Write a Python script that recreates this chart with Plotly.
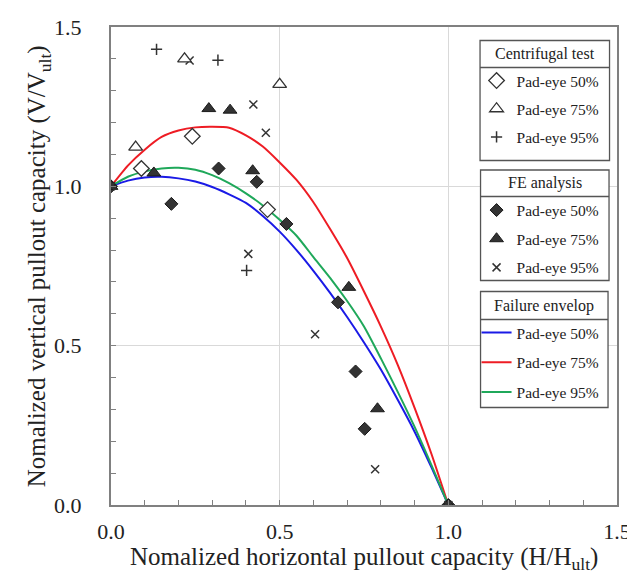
import plotly.graph_objects as go

# ---------------- data ----------------
# Centrifugal test (open markers)
cf50_h = [0.090, 0.241, 0.464]
cf50_v = [1.056, 1.157, 0.927]
cf75_h = [0.073, 0.218, 0.500]
cf75_v = [1.123, 1.400, 1.320]
cf95_h = [0.135, 0.317, 0.402]
cf95_v = [1.430, 1.396, 0.736]

# FE analysis (filled markers)
fe50_h = [0.0, 0.179, 0.319, 0.432, 0.520, 0.673, 0.725, 0.752, 1.0]
fe50_v = [1.0, 0.945, 1.056, 1.014, 0.882, 0.636, 0.419, 0.239, 0.0]
fe75_h = [0.0, 0.127, 0.290, 0.353, 0.420, 0.705, 0.790, 1.0]
fe75_v = [1.0, 1.042, 1.244, 1.239, 1.049, 0.683, 0.302, 0.0]
fe95_h = [0.0, 0.233, 0.422, 0.459, 0.407, 0.605, 0.783, 1.0]
fe95_v = [1.0, 1.395, 1.257, 1.168, 0.788, 0.536, 0.112, 0.0]

# Failure envelopes
env_h = [0.0, 0.05, 0.10, 0.15, 0.20, 0.25, 0.30, 0.35, 0.40, 0.45, 0.50,
         0.55, 0.60, 0.65, 0.70, 0.75, 0.80, 0.85, 0.90, 0.95, 1.0]
env50_v = [1.0, 1.018, 1.028, 1.030, 1.025, 1.015, 0.998, 0.975, 0.948, 0.907, 0.858,
           0.800, 0.735, 0.665, 0.590, 0.510, 0.425, 0.330, 0.230, 0.118, 0.0]
env75_v = [1.0, 1.065, 1.115, 1.155, 1.175, 1.185, 1.187, 1.184, 1.160, 1.125, 1.075,
           1.020, 0.950, 0.865, 0.775, 0.670, 0.560, 0.440, 0.305, 0.160, 0.0]
env95_v = [1.0, 1.030, 1.047, 1.056, 1.058, 1.052, 1.035, 1.010, 0.978, 0.940, 0.895,
           0.845, 0.778, 0.712, 0.640, 0.560, 0.460, 0.355, 0.245, 0.125, 0.0]

# y tick labels
y_tick_vals = [0.0, 0.5, 1.0, 1.5]
y_tick_text = ["0.0", "0.5", "1.0", "1.5"]

item_label = ["Pad-eye 50%", "Pad-eye 75%", "Pad-eye 95%"]
legend_titles = ["Centrifugal test", "FE analysis", "Failure envelop"]
x_title = "Nomalized horizontal pullout capacity (H/H<sub>ult</sub>)"
y_title = "Nomalized vertical pullout capacity (V/V<sub>ult</sub>)"

FONT = "Liberation Serif"
TXT = "#222222"
DARK = "#333333"
EDGE = "#1a1a1a"
BOX = "#555555"
line_colors = ["#1a1ae6", "#ee1c24", "#1fa85a"]

fig = go.Figure()

# envelopes first (below markers)
for i, v in enumerate([env50_v, env75_v, env95_v]):
    fig.add_trace(go.Scatter(
        x=env_h, y=v, mode="lines", name=item_label[i],
        line=dict(color=line_colors[i], width=2, shape="spline", smoothing=0.6),
        legend="legend3", legendgroup="env%d" % i))

# FE analysis
fig.add_trace(go.Scatter(
    x=fe50_h, y=fe50_v, mode="markers", name=item_label[0],
    marker=dict(symbol="diamond", size=10, color=DARK, line=dict(color=EDGE, width=1)),
    legend="legend2", legendgroup="fe0"))
fig.add_trace(go.Scatter(
    x=fe75_h, y=fe75_v, mode="markers", name=item_label[1],
    marker=dict(symbol="triangle-up", size=12, color=DARK, line=dict(color=EDGE, width=1)),
    legend="legend2", legendgroup="fe1"))
fig.add_trace(go.Scatter(
    x=fe95_h, y=fe95_v, mode="markers", name=item_label[2],
    marker=dict(symbol="x-thin", size=8, color=DARK, line=dict(color=DARK, width=1.5)),
    legend="legend2", legendgroup="fe2"))

# Centrifugal test
fig.add_trace(go.Scatter(
    x=cf50_h, y=cf50_v, mode="markers", name=item_label[0],
    marker=dict(symbol="diamond", size=12, color="white", line=dict(color=DARK, width=1.3)),
    legend="legend", legendgroup="cf0"))
fig.add_trace(go.Scatter(
    x=cf75_h, y=cf75_v, mode="markers", name=item_label[1],
    marker=dict(symbol="triangle-up", size=12, color="white", line=dict(color=DARK, width=1.3)),
    legend="legend", legendgroup="cf1"))
fig.add_trace(go.Scatter(
    x=cf95_h, y=cf95_v, mode="markers", name=item_label[2],
    marker=dict(symbol="cross-thin", size=8, color=DARK, line=dict(color=DARK, width=1.5)),
    legend="legend", legendgroup="cf2"))

# plot area geometry (pixels) for legend placement
W, H = 635, 577
ml, mr, mt, mb = 103, 24, 19, 80
pw, ph = W - ml - mr, H - mt - mb


def px2paper_x(px):
    return (px - ml) / pw


def px2paper_y(py):
    return (H - mb - py) / ph


# legend boxes (pixel rectangles): left, right, top, divider, bottom
boxes = [
    (473.5, 603.5, 32.5, 59.5, 152.5),
    (474.0, 603.0, 162.0, 188.5, 272.5),
    (474.0, 602.0, 283.5, 311.5, 399.5),
]
item_tops = [56, 185.5, 308]
item_gaps = [5, 5.5, 6.5]

legends = {}
shapes = []
annotations = []
for k, name in enumerate(["legend", "legend2", "legend3"]):
    l, r, t, dv, b = boxes[k]
    legends[name] = dict(
        x=px2paper_x(470), xanchor="left",
        y=px2paper_y(item_tops[k]), yanchor="top",
        borderwidth=0, bgcolor="rgba(0,0,0,0)",
        font=dict(family=FONT, size=15.5, color=TXT),
        tracegroupgap=item_gaps[k], traceorder="grouped", itemwidth=30,
    )
    shapes.append(dict(type="rect", xref="paper", yref="paper", layer="above",
                       x0=px2paper_x(l), x1=px2paper_x(r),
                       y0=px2paper_y(b), y1=px2paper_y(t),
                       fillcolor="white", line=dict(color=BOX, width=1.3)))
    shapes.append(dict(type="line", xref="paper", yref="paper", layer="above",
                       x0=px2paper_x(l), x1=px2paper_x(r),
                       y0=px2paper_y(dv), y1=px2paper_y(dv),
                       line=dict(color=BOX, width=1.3)))
    annotations.append(dict(text=legend_titles[k], xref="paper", yref="paper",
                            x=px2paper_x((l + r) / 2), y=px2paper_y((t + dv) / 2),
                            xanchor="center", yanchor="middle", showarrow=False,
                            font=dict(family=FONT, size=16, color=TXT)))

# y tick labels, placed on the y scale, set well away from the axis as in the reference
for val, txt in zip(y_tick_vals, y_tick_text):
    annotations.append(dict(text=txt, xref="paper", yref="y",
                            x=px2paper_x(76), y=val, xanchor="right", yanchor="middle",
                            showarrow=False, font=dict(family=FONT, size=22, color=TXT)))

# axis titles
annotations.append(dict(text=x_title, xref="paper", yref="paper",
                        x=0.5, y=px2paper_y(533), xanchor="center", yanchor="top",
                        showarrow=False, font=dict(family=FONT, size=25, color=TXT)))
annotations.append(dict(text=y_title, xref="paper", yref="paper", textangle=-90,
                        x=px2paper_x(30), y=0.5, xanchor="center", yanchor="middle",
                        showarrow=False, font=dict(family=FONT, size=25, color=TXT)))

axis_common = dict(
    range=[0, 1.5], dtick=0.5, tick0=0,
    showgrid=True, gridcolor="#d9d9d9", gridwidth=1,
    showline=True, linecolor="#808080", linewidth=1.5, mirror=True,
    ticks="inside", ticklen=5, tickcolor="#808080", tickwidth=1.2,
    minor=dict(dtick=0.1, ticks="inside", ticklen=5, tickcolor="#808080",
               tickwidth=1.2, showgrid=False),
    tickformat=".1f",
    tickfont=dict(family=FONT, size=22, color=TXT),
    zeroline=False,
)

fig.update_layout(
    width=W, height=H,
    margin=dict(l=ml, r=mr, t=mt, b=mb),
    paper_bgcolor="white", plot_bgcolor="white",
    font=dict(family=FONT, color=TXT),
    xaxis=dict(axis_common, ticklabelstandoff=6),
    yaxis=dict(axis_common, showticklabels=False),
    shapes=shapes,
    annotations=annotations,
    **legends,
)

fig.write_html("out.html")
